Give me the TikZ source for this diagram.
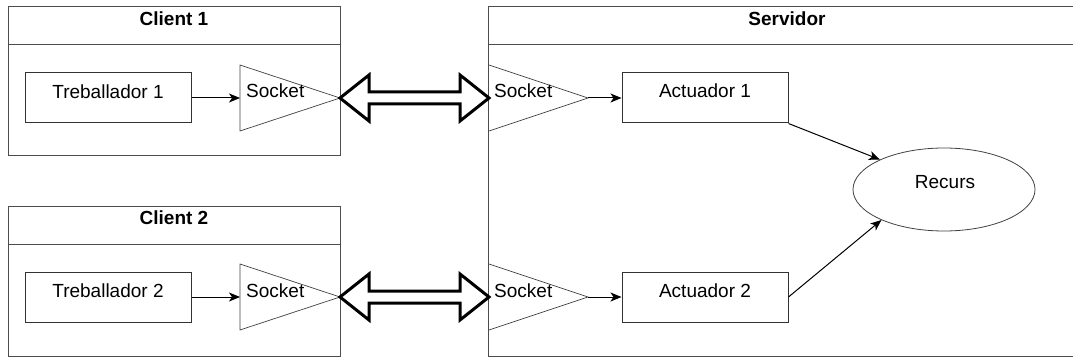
\documentclass[tikz,border=0pt]{standalone}
\usepackage{fontspec}
\setmainfont{Liberation Sans}
\usetikzlibrary{arrows.meta,calc,shapes.geometric}

\tikzset{
  frame/.style={draw=black!70, line width=1pt},
  box/.style={draw=black!80, line width=1pt, rectangle, inner sep=0pt},
  sock/.style={draw=black!75, line width=0.7pt},
  lbl/.style={inner sep=0pt, anchor=base, font=\fontsize{19}{23}\selectfont},
  ttl/.style={inner sep=0pt, anchor=base, font=\fontsize{19}{23}\selectfont\bfseries},
  flow/.style={draw=black, line width=1pt, -{Stealth[length=11pt,width=9pt,inset=3pt]}},
  link/.style={draw=black, fill=white, line width=3pt, line join=miter},
}

\begin{document}
\begin{tikzpicture}[x=1pt, y=-1pt]
\useasboundingbox (0,0) rectangle (1073,358);

% --- container frames with title bands ---
\draw[frame] (8,7) rectangle (340,156);
\draw[frame] (8,45) -- (340,45);
\node[ttl] (c1title) at (174,26) {Client 1};

\draw[frame] (8,207) rectangle (340,356);
\draw[frame] (8,244) -- (340,244);
\node[ttl] (c2title) at (174,225) {Client 2};

\draw[frame] (488,7) rectangle (1086,356);
\draw[frame] (488,45) -- (1086,45);
\node[ttl] (stitle) at (787,26) {Servidor};

% --- workers ---
\node[box, minimum width=166pt, minimum height=50pt] (t1) at (108,98) {};
\node[lbl] at (108,99) {Treballador 1};
\node[box, minimum width=166pt, minimum height=50pt] (t2) at (108,297) {};
\node[lbl] at (108,297) {Treballador 2};

% --- actuators ---
\node[box, minimum width=166pt, minimum height=50pt] (a1) at (705,98) {};
\node[lbl] at (705,98) {Actuador 1};
\node[box, minimum width=166pt, minimum height=50pt] (a2) at (705,297) {};
\node[lbl] at (705,297) {Actuador 2};

% --- shared resource ---
\node[ellipse, draw=black!75, line width=0.8pt, inner sep=0pt,
      minimum width=182pt, minimum height=83pt] (rec) at (944,189.5) {};
\node[lbl] at (945,189) {Recurs};

% --- sockets (triangles pointing right) ---
\coordinate (cs1in) at (240,98);  \coordinate (cs1tip) at (340,98);
\coordinate (cs2in) at (240,297); \coordinate (cs2tip) at (340,297);
\coordinate (ss1in) at (489,98);  \coordinate (ss1tip) at (588,98);
\coordinate (ss2in) at (489,297); \coordinate (ss2tip) at (588,297);

\draw[sock] ($(cs1in)+(0,-33)$) -- (cs1tip) -- ($(cs1in)+(0,33)$) -- cycle;
\draw[sock] ($(cs2in)+(0,-33)$) -- (cs2tip) -- ($(cs2in)+(0,33)$) -- cycle;
\draw[sock] ($(ss1in)+(0,-33)$) -- (ss1tip) -- ($(ss1in)+(0,33)$);
\draw[sock] ($(ss2in)+(0,-33)$) -- (ss2tip) -- ($(ss2in)+(0,33)$);

\node[lbl, anchor=base west] (cs1) at (246,98) {Socket};
\node[lbl, anchor=base west] (cs2) at (246,297) {Socket};
\node[lbl, anchor=base west] (ss1) at (494,98) {Socket};
\node[lbl, anchor=base west] (ss2) at (494,297) {Socket};

% --- bidirectional links between client and server sockets ---
\draw[link] (cs1tip) -- ++(29,-23) -- ++(0,17) -- ($(ss1in)+(-29,-6)$)
  -- ++(0,-17) -- (ss1in) -- ++(-29,23) -- ++(0,-17) -- ($(cs1tip)+(29,6)$)
  -- ++(0,17) -- cycle;
\draw[link] (cs2tip) -- ++(29,-23) -- ++(0,17) -- ($(ss2in)+(-29,-6)$)
  -- ++(0,-17) -- (ss2in) -- ++(-29,23) -- ++(0,-17) -- ($(cs2tip)+(29,6)$)
  -- ++(0,17) -- cycle;

% --- flows ---
\draw[flow] (t1.east) -- (cs1in);
\draw[flow] (t2.east) -- (cs2in);
\draw[flow] (ss1tip) -- (a1.west);
\draw[flow] (ss2tip) -- (a2.west);
\draw[flow] (a1.south east) -- (rec.155);
\draw[flow] (a2.east) -- (rec.206);
\end{tikzpicture}
\end{document}
